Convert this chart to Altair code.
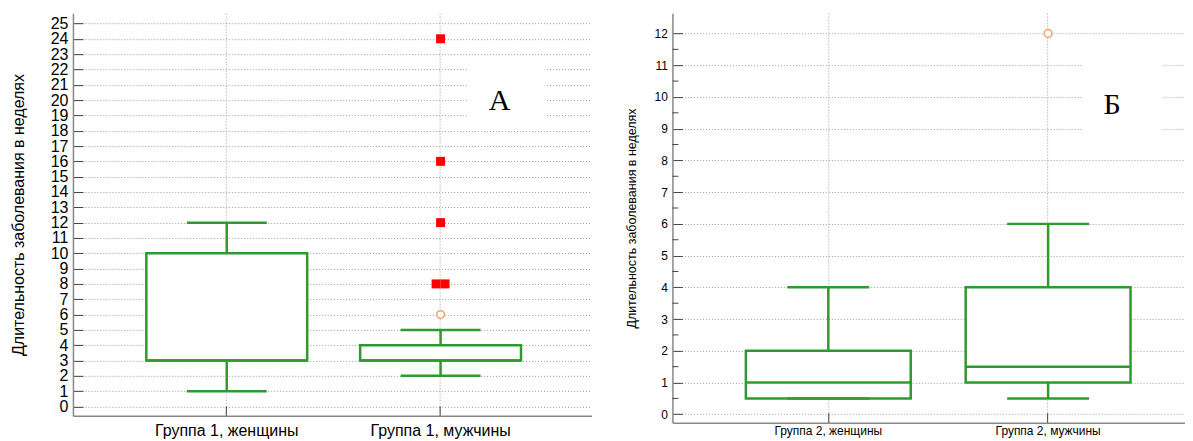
import altair as alt
import pandas as pd

GREEN = "#2f9b2f"
RED = "#ff0000"
ORANGE = "#f4a06a"
GRID = "#9a9a9a"

# ---------------- Panel A data ----------------
cat_a = ["Группа 1, женщины", "Группа 1, мужчины"]
a_low = [1, 2]
a_q1 = [3, 3]
a_med = [3, 3]
a_q3 = [10, 4]
a_high = [12, 5]
a_out_cat = ["Группа 1, мужчины"]
a_out_val = [6]
a_far_cat = ["Группа 1, мужчины", "Группа 1, мужчины", "Группа 1, мужчины",
             "Группа 1, мужчины", "Группа 1, мужчины"]
a_far_val = [8, 8, 12, 16, 24]
a_ticks = [0, 1, 2, 3, 4, 5, 6, 7, 8, 9, 10, 11, 12, 13, 14, 15, 16, 17, 18,
           19, 20, 21, 22, 23, 24, 25]

# ---------------- Panel B data ----------------
cat_b = ["Группа 2, женщины", "Группа 2, мужчины"]
b_low = [0.5, 0.5]
b_q1 = [0.5, 1]
b_med = [1, 1.5]
b_q3 = [2, 4]
b_high = [4, 6]
b_out_cat = ["Группа 2, мужчины"]
b_out_val = [12]
b_far_cat = []
b_far_val = []
b_ticks = [0, 1, 2, 3, 4, 5, 6, 7, 8, 9, 10, 11, 12]
b_minor = [0.5, 1.5, 2.5, 3.5, 4.5, 5.5, 6.5, 7.5, 8.5, 9.5, 10.5, 11.5]

y_title = "Длительность заболевания в неделях"


def panel(cats, low, q1, med, q3, high, out_cat, out_val, far_cat, far_val,
          ticks, minor, domain, width, height, po, align, box_w, cap_w,
          lab_fs, title_fs, title_pad, x_lab_pad, letter, letter_xy, rect_xy):
    stats = pd.DataFrame({"g": cats, "low": low, "q1": q1, "med": med,
                          "q3": q3, "high": high})
    outs = pd.DataFrame({"g": out_cat, "v": out_val})
    far = pd.DataFrame({"g": far_cat, "v": far_val})
    if len(far):
        cnt = far.groupby(["g", "v"])["v"].transform("count")
        rank = far.groupby(["g", "v"]).cumcount()
        far["slot"] = rank - (cnt - 1) / 2.0

    xs = alt.Scale(domain=cats, paddingInner=0, paddingOuter=po, align=align)
    ys = alt.Scale(domain=domain, nice=False, zero=False)

    x_axis = alt.Axis(title=None, labelAngle=0, labelFontSize=lab_fs,
                      grid=True, gridDash=[1, 2], gridColor=GRID,
                      bandPosition=0.5,
                      tickSize={"expr": "-10"}, tickColor="#444",
                      domainColor="#888", domainWidth=1.5,
                      labelPadding=x_lab_pad, labelColor="black")
    y_axis = alt.Axis(title=y_title, values=ticks, grid=True, gridDash=[1, 2],
                      gridColor=GRID, tickSize={"expr": "-10"},
                      tickColor="#444", domainColor="#888", domainWidth=1.5,
                      labelFontSize=lab_fs, titleFontSize=title_fs,
                      titleFontWeight="normal", labelOverlap=False,
                      labelFlush=False, labelPadding=15, titlePadding=title_pad,
                      labelColor="black", titleColor="black")

    def X():
        return alt.X("g:N", scale=xs, sort=cats, axis=x_axis)

    def Y(f):
        return alt.Y(f, scale=ys, axis=y_axis)

    base = alt.Chart(stats)
    boxes = base.mark_bar(size=box_w, fill="white", stroke=GREEN,
                          strokeWidth=2.5).encode(x=X(), y=Y("q1:Q"), y2="q3:Q")
    wlo = base.mark_rule(color=GREEN, strokeWidth=2.5).encode(
        x=X(), y=Y("low:Q"), y2="q1:Q")
    whi = base.mark_rule(color=GREEN, strokeWidth=2.5).encode(
        x=X(), y=Y("q3:Q"), y2="high:Q")
    cap_lo = base.mark_tick(size=cap_w, thickness=2.5, color=GREEN,
                            opacity=1).encode(x=X(), y=Y("low:Q"))
    cap_hi = base.mark_tick(size=cap_w, thickness=2.5, color=GREEN,
                            opacity=1).encode(x=X(), y=Y("high:Q"))
    median = base.mark_tick(size=box_w, thickness=2.5, color=GREEN,
                            opacity=1).encode(x=X(), y=Y("med:Q"))

    lab = pd.DataFrame({"t": [letter]})
    rect = alt.Chart(lab).mark_rect(color="white").encode(
        x=alt.value(rect_xy[0]), x2=alt.value(rect_xy[1]),
        y=alt.value(rect_xy[2]), y2=alt.value(rect_xy[3]))
    text = alt.Chart(lab).mark_text(font="Liberation Serif", fontSize=30,
                                    color="black", align="center").encode(
        text="t:N", x=alt.value(letter_xy[0]), y=alt.value(letter_xy[1]))

    layers = [rect, text, wlo, whi, boxes, cap_lo, cap_hi, median]

    if minor:
        mdf = pd.DataFrame({"m": minor})
        layers.append(alt.Chart(mdf).mark_rule(color="#444", strokeWidth=1).encode(
            x=alt.value(0), x2=alt.value(6), y=Y("m:Q")))

    if len(outs):
        layers.append(alt.Chart(outs).mark_point(
            shape="circle", filled=True, fill="white", stroke=ORANGE,
            strokeWidth=1.5, size=60, opacity=1).encode(x=X(), y=Y("v:Q")))
    if len(far):
        for s, dx in [(-0.5, -4.5), (0.0, 0), (0.5, 4.5)]:
            sub = far[far["slot"] == s]
            if len(sub):
                layers.append(alt.Chart(sub).mark_square(
                    size=81, color=RED, opacity=1, xOffset=dx).encode(
                    x=X(), y=Y("v:Q")))

    return alt.layer(*layers).properties(width=width, height=height)


left = panel(cat_a, a_low, a_q1, a_med, a_q3, a_high, a_out_cat, a_out_val,
             a_far_cat, a_far_val, a_ticks, None, [-0.61, 25.67], 519, 403,
             0.2126, 0.516, 161, 80, 16, 16, 24, 17, "A", (427, 88),
             (395, 473, 45, 117))
right = panel(cat_b, b_low, b_q1, b_med, b_q3, b_high, b_out_cat, b_out_val,
              b_far_cat, b_far_val, b_ticks, b_minor, [-0.27, 12.64], 513, 410,
              0.166, 0.63, 165, 82, 12, 12.5, 16, 13, "Б", (440, 92),
              (411, 490, 30, 135))

chart = alt.hconcat(left, right, spacing=33).properties(
    padding={"left": 2, "top": 5, "right": 0, "bottom": 0}
).configure_view(stroke=None).configure_axis(
    labelFont="Liberation Sans", titleFont="Liberation Sans")

chart.save("out.html", embed_options={"renderer": "svg", "actions": False})
